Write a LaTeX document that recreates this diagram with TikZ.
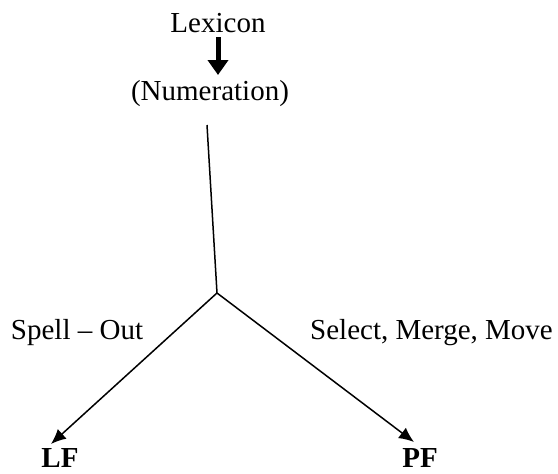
\documentclass[tikz,border=0pt]{standalone}
\usepackage{fontspec}
\setmainfont{Liberation Serif}
\usetikzlibrary{arrows.meta}
\begin{document}
\begin{tikzpicture}[x=1pt,y=-1pt,
  lbl/.style={inner sep=0pt,font=\fontsize{29}{34}\selectfont},
  conn/.style={line width=1.5pt},
  arr/.style={conn,-{Latex[length=15pt,width=13pt]}}]
\useasboundingbox (0,0) rectangle (558,474);
\node[lbl] (lex) at (218,23) {Lexicon};
\node[lbl] (num) at (210,94) {(Numeration)};
\coordinate (top) at (207,125);
\coordinate (j) at (217,293);
\node[lbl,font=\fontsize{29}{34}\selectfont\bfseries] (lf) at (60,458) {LF};
\node[lbl,font=\fontsize{29}{34}\selectfont\bfseries] (pf) at (420,458) {PF};
\coordinate (lfe) at (51,444);
\coordinate (pfe) at (414,442);
\node[lbl] (so) at (77,333) {Spell -- Out};
\node[lbl,anchor=west] (smm) at (310,333) {Select, Merge, Move};
\coordinate (as) at (218,37);
\coordinate (ae) at (218,75);
\draw[line width=5pt,-{Triangle[length=15pt,width=20pt]}] (as) -- (ae);
\draw[conn] (top) -- (j);
\draw[arr] (j) -- (lfe);
\draw[arr] (j) -- (pfe);
\end{tikzpicture}
\end{document}
